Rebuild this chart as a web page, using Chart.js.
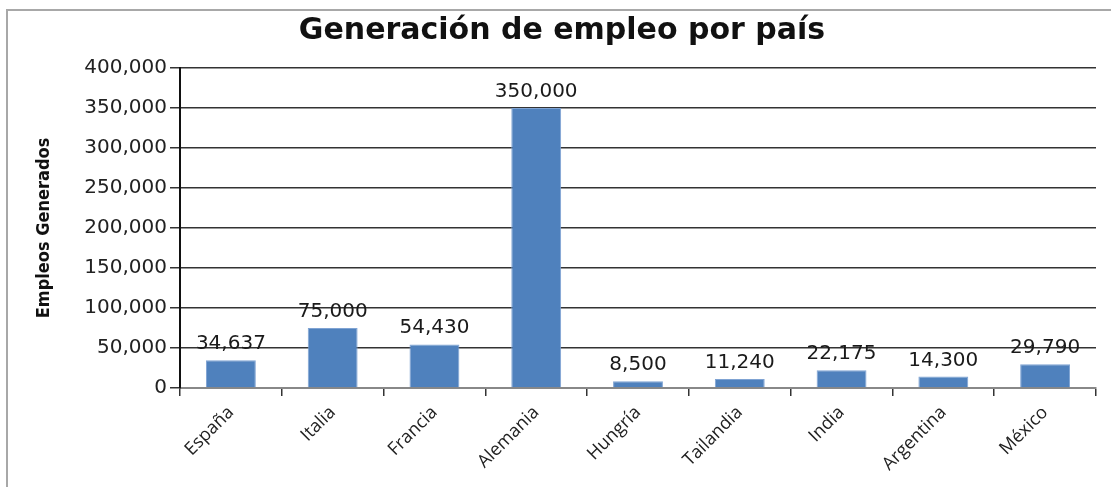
<!DOCTYPE html>
<html>
<head>
<meta charset="utf-8">
<script src="https://cdn.jsdelivr.net/npm/chart.js@4/dist/chart.umd.min.js"></script>
<style>
  html, body { margin: 0; padding: 0; background: #fff; overflow: hidden; }
  #wrap { position: relative; width: 1111px; height: 487px; }
  #frame { position: absolute; left: 6px; top: 9px; width: 1120px; height: 490px;
           border-left: 2px solid #a8a8a8; border-top: 2px solid #a8a8a8; box-sizing: border-box; }
  canvas { position: absolute; left: 0; top: 0; }
</style>
</head>
<body>
<div id="wrap">
  <div id="frame"></div>
  <canvas id="c" width="1111" height="487"></canvas>
</div>
<script>
const categories = ["España", "Italia", "Francia", "Alemania", "Hungría", "Tailandia", "India", "Argentina", "México"];
const empleos = [34637, 75000, 54430, 350000, 8500, 11240, 22175, 14300, 29790];
const chartTitle = "Generación de empleo por país";
const yAxisTitle = "Empleos Generados";

const fmt = v => v.toLocaleString('en-US');

const dataLabels = {
  id: 'dataLabels',
  afterDatasetsDraw(chart) {
    const ctx = chart.ctx;
    const meta = chart.getDatasetMeta(0);
    ctx.save();
    ctx.font = '20px "DejaVu Sans"';
    ctx.fillStyle = '#1a1a1a';
    ctx.textAlign = 'center';
    ctx.textBaseline = 'alphabetic';
    meta.data.forEach((bar, i) => {
      ctx.fillText(fmt(chart.data.datasets[0].data[i]), bar.x, bar.y - 11);
    });
    ctx.restore();
  }
};

new Chart(document.getElementById('c'), {
  type: 'bar',
  data: {
    labels: categories,
    datasets: [{
      data: empleos,
      backgroundColor: '#4F81BD',
      borderColor: '#7FA3D3',
      borderWidth: 1,
      categoryPercentage: 1,
      barPercentage: 0.49
    }]
  },
  options: {
    responsive: false,
    animation: false,
    layout: { padding: { left: 28, right: 15, top: 0, bottom: 0 } },
    plugins: {
      legend: { display: false },
      tooltip: { enabled: false },
      title: {
        display: true,
        text: chartTitle,
        color: '#111',
        font: { family: '"DejaVu Sans"', size: 30, weight: 'bold', lineHeight: 1.1 },
        padding: { top: 15, bottom: 20 }
      }
    },
    scales: {
      x: {
        afterFit(s) { s.height = 99; },
        grid: { offset: true, drawOnChartArea: false, drawTicks: true, tickLength: 8, color: '#333', lineWidth: 1.5 },
        border: { color: '#888', width: 2 },
        ticks: {
          color: '#222',
          font: { family: '"Open Sans"', size: 18 },
          maxRotation: 45, minRotation: 45, padding: 6
        }
      },
      y: {
        min: 0, max: 400000,
        afterFit(s) { s.width = 152; },
        grid: { color: '#333', lineWidth: 1.5, tickLength: 10 },
        border: { color: '#111', width: 2 },
        ticks: {
          stepSize: 50000,
          color: '#222',
          font: { family: '"DejaVu Sans"', size: 20 },
          padding: 3,
          callback: v => fmt(v)
        },
        title: {
          display: true,
          text: yAxisTitle,
          color: '#111',
          font: { family: '"DejaVu Sans Condensed", "DejaVu Sans"', size: 18, weight: 'bold' },
          padding: { top: 6, bottom: 0 }
        }
      }
    }
  },
  plugins: [dataLabels]
});
</script>
</body>
</html>
